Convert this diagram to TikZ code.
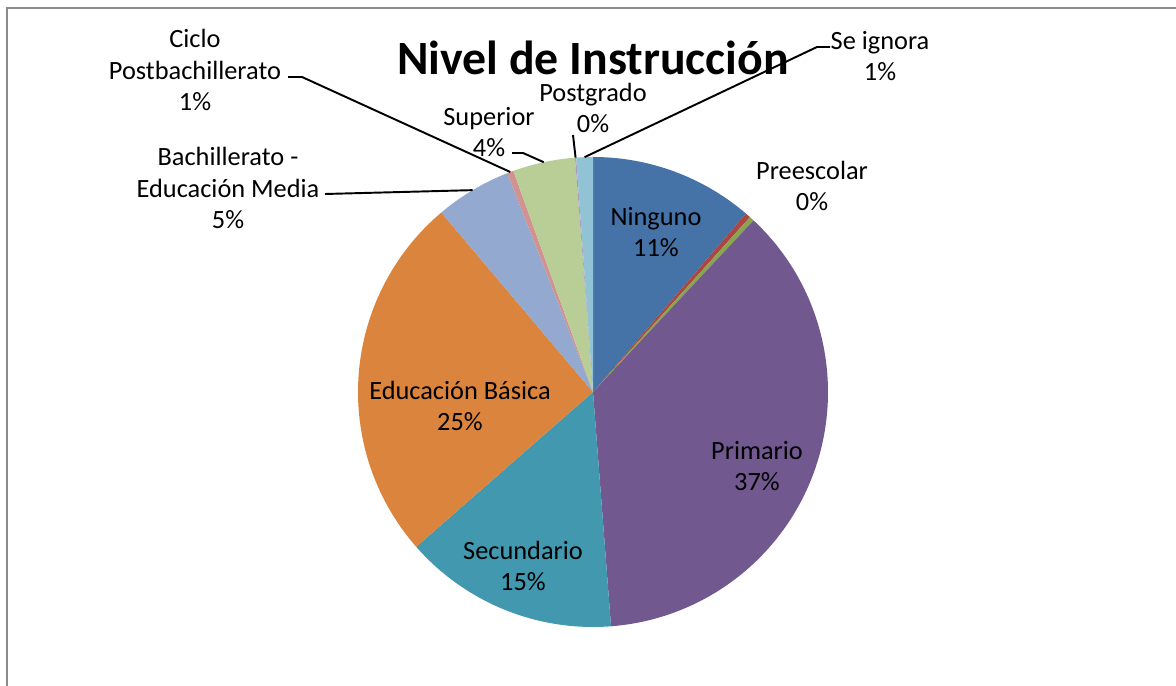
\documentclass[tikz,border=0pt]{standalone}
\usepackage{fontspec}
\setmainfont{Carlito}
\usepackage{tikz}
\usetikzlibrary{calc,positioning}

\definecolor{cNinguno}{HTML}{4572A7}
\definecolor{cPreescolar}{HTML}{AA4643}
\definecolor{cOtro}{HTML}{89A54E}
\definecolor{cPrimario}{HTML}{71588F}
\definecolor{cSecundario}{HTML}{4198AF}
\definecolor{cBasica}{HTML}{DB843D}
\definecolor{cBach}{HTML}{93A9CF}
\definecolor{cCiclo}{HTML}{D19392}
\definecolor{cSuperior}{HTML}{B9CD96}
\definecolor{cPostgrado}{HTML}{A99BBD}
\definecolor{cIgnora}{HTML}{92C3D5}

\begin{document}
\begin{tikzpicture}[x=0.02cm,y=0.02cm,
  lbl/.style={align=center,inner sep=1pt,
    font=\fontsize{15}{18}\selectfont},
  leader/.style={line width=1.1pt,line join=round}]
  \def\r{235}
  \useasboundingbox(0,0)rectangle(1176,686);
  \draw[line width=1.2pt,color=black!45](7,-10)--(7,678)--(1190,678);
  \coordinate(O) at (593,294);
  % slices, clockwise from the top
  \fill[cNinguno](O)--++(90:\r)arc[start angle=90,end angle=49.4,radius=\r]--cycle;
  \fill[cPreescolar](O)--++(49.4:\r)arc[start angle=49.4,end angle=48.1,radius=\r]--cycle;
  \fill[cOtro](O)--++(48.1:\r)arc[start angle=48.1,end angle=46.9,radius=\r]--cycle;
  \fill[cPrimario](O)--++(46.9:\r)arc[start angle=46.9,end angle=-85.6,radius=\r]--cycle;
  \fill[cSecundario](O)--++(-85.6:\r)arc[start angle=-85.6,end angle=-138.8,radius=\r]--cycle;
  \fill[cBasica](O)--++(-138.8:\r)arc[start angle=-138.8,end angle=-229.8,radius=\r]--cycle;
  \fill[cBach](O)--++(-229.8:\r)arc[start angle=-229.8,end angle=-248.6,radius=\r]--cycle;
  \fill[cCiclo](O)--++(-248.6:\r)arc[start angle=-248.6,end angle=-250.2,radius=\r]--cycle;
  \fill[cSuperior](O)--++(-250.2:\r)arc[start angle=-250.2,end angle=-265.6,radius=\r]--cycle;
  \fill[cPostgrado](O)--++(-265.6:\r)arc[start angle=-265.6,end angle=-265.9,radius=\r]--cycle;
  \fill[cIgnora](O)--++(-265.9:\r)arc[start angle=-265.9,end angle=-270,radius=\r]--cycle;
  % leader ends on the rim
  \coordinate(pBach) at ($(O)+(120.8:\r)$);
  \coordinate(pCiclo) at ($(O)+(110.6:\r)$);
  \coordinate(pSup) at ($(O)+(102.1:\r)$);
  \coordinate(pPost) at ($(O)+(94.25:\r)$);
  \coordinate(pIgn) at ($(O)+(92.05:\r)$);
  % title
  \node[inner sep=0pt,font=\fontsize{27.2}{30}\selectfont\bfseries](title)
    at (593,628){Nivel de Instrucción};
  % labels
  \node[lbl](lblNinguno) at (656,454){Ninguno\\11\%};
  \node[lbl](lblPrim) at (757,220){Primario\\37\%};
  \node[lbl](lblSec) at (523,120){Secundario\\15\%};
  \node[lbl](lblBas) at (460,280){Educación Básica\\25\%};
  \node[lbl](lblPre) at (812,500){Preescolar\\0\%};
  \node[lbl](lblIgn) at (880,630){Se ignora\\1\%};
  \node[lbl](lblPost) at (593,578){Postgrado\\0\%};
  \node[lbl](lblSup) at (489,554){Superior\\4\%};
  \node[lbl](lblCiclo) at (195,616){Ciclo\\Postbachillerato\\1\%};
  \node[lbl](lblBach) at (228,498){Bachillerato -\\Educación Media\\5\%};
  % leaders
  \draw[leader]($(lblBach.center)+(97,-6)$)--(pBach);
  \draw[leader]($(lblCiclo.center)+(93,-7)$)--++(14,0)--(pCiclo);
  \draw[leader]($(lblSup.center)+(23,-21)$)--++(11,0)--(pSup);
  \draw[leader]($(lblPost.center)+(-20,-27)$)--(pPost);
  \draw[leader]($(lblIgn.center)+(-50,9)$)--++(-13,0)--(pIgn);
\end{tikzpicture}
\end{document}
